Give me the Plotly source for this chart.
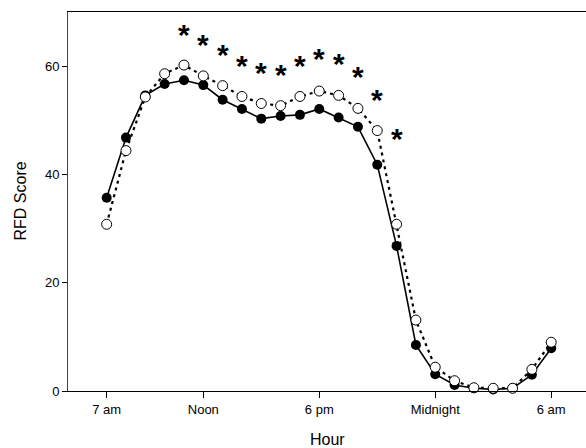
import plotly.graph_objects as go

# Hours: 7 = 7 am ... 24 = Midnight ... 30 = 6 am (next day)
hours = list(range(7, 31))

filled_scores = [35.7, 46.8, 54.6, 56.7, 57.4, 56.5, 53.8, 52.1, 50.3, 50.8, 51.0, 52.1,
                 50.5, 48.8, 41.8, 26.8, 8.5, 3.1, 1.1, 0.5, 0.3, 0.5, 3.0, 7.9]
open_scores = [30.8, 44.4, 54.3, 58.6, 60.2, 58.2, 56.4, 54.4, 53.1, 52.7, 54.4, 55.4,
               54.6, 52.2, 48.1, 30.8, 13.1, 4.4, 1.9, 0.6, 0.5, 0.5, 4.0, 9.0]

star_hours = [11, 12, 13, 14, 15, 16, 17, 18, 19, 20, 21, 22]
star_scores = [66.5, 64.6, 62.8, 60.8, 59.4, 59.1, 60.8, 62.1, 61.2, 58.8, 54.5, 47.3]

tick_vals = [7, 12, 18, 24, 30]
tick_text = ["7 am", "Noon", "6 pm", "Midnight", "6 am"]
y_ticks = [0, 20, 40, 60]

FONT = "Liberation Sans, Arial, sans-serif"

fig = go.Figure()

fig.add_trace(go.Scatter(
    x=hours, y=filled_scores, mode="lines+markers",
    line=dict(color="black", width=1.6),
    marker=dict(symbol="circle", size=10, color="black", line=dict(color="black", width=0)),
    showlegend=False, cliponaxis=False,
))
fig.add_trace(go.Scatter(
    x=hours, y=open_scores, mode="lines+markers",
    line=dict(color="black", width=2.2, dash="3px,4px"),
    marker=dict(symbol="circle", size=10, color="white", line=dict(color="black", width=1)),
    showlegend=False, cliponaxis=False,
))

star_annotations = [
    dict(x=h, y=s, xref="x", yref="y", text="<b>*</b>", showarrow=False,
         xanchor="center", yanchor="middle", yshift=-3.5,
         font=dict(family=FONT, size=30, color="black"))
    for h, s in zip(star_hours, star_scores)
]

fig.update_layout(
    width=586, height=448,
    margin=dict(l=68, r=0, t=12, b=57),
    paper_bgcolor="white", plot_bgcolor="white",
    font=dict(family=FONT, size=13, color="black"),
    xaxis=dict(
        range=[5, 31.8], tickmode="array", tickvals=tick_vals, ticktext=tick_text,
        showline=True, linecolor="black", linewidth=1, mirror=True,
        ticks="outside", ticklen=6, tickcolor="black", tickwidth=1,
        showgrid=False, zeroline=False, tickfont=dict(size=13, family=FONT),
    ),
    yaxis=dict(
        range=[0, 70], tickmode="array", tickvals=y_ticks,
        showline=True, linecolor="#444", linewidth=1,
        ticks="outside", ticklen=5, tickcolor="black", tickwidth=1,
        showgrid=False, zeroline=False, tickfont=dict(size=13, family=FONT),
    ),
    annotations=star_annotations + [
        dict(text="Hour", xref="paper", yref="paper", x=0.5, y=0, yshift=-48,
             showarrow=False, font=dict(size=16, family=FONT), xanchor="center", yanchor="middle"),
        dict(text="RFD Score", xref="paper", yref="paper", x=0, xshift=-48, y=0.5,
             showarrow=False, textangle=-90, font=dict(size=16, family=FONT),
             xanchor="center", yanchor="middle"),
    ],
)

fig.write_html("out.html")
